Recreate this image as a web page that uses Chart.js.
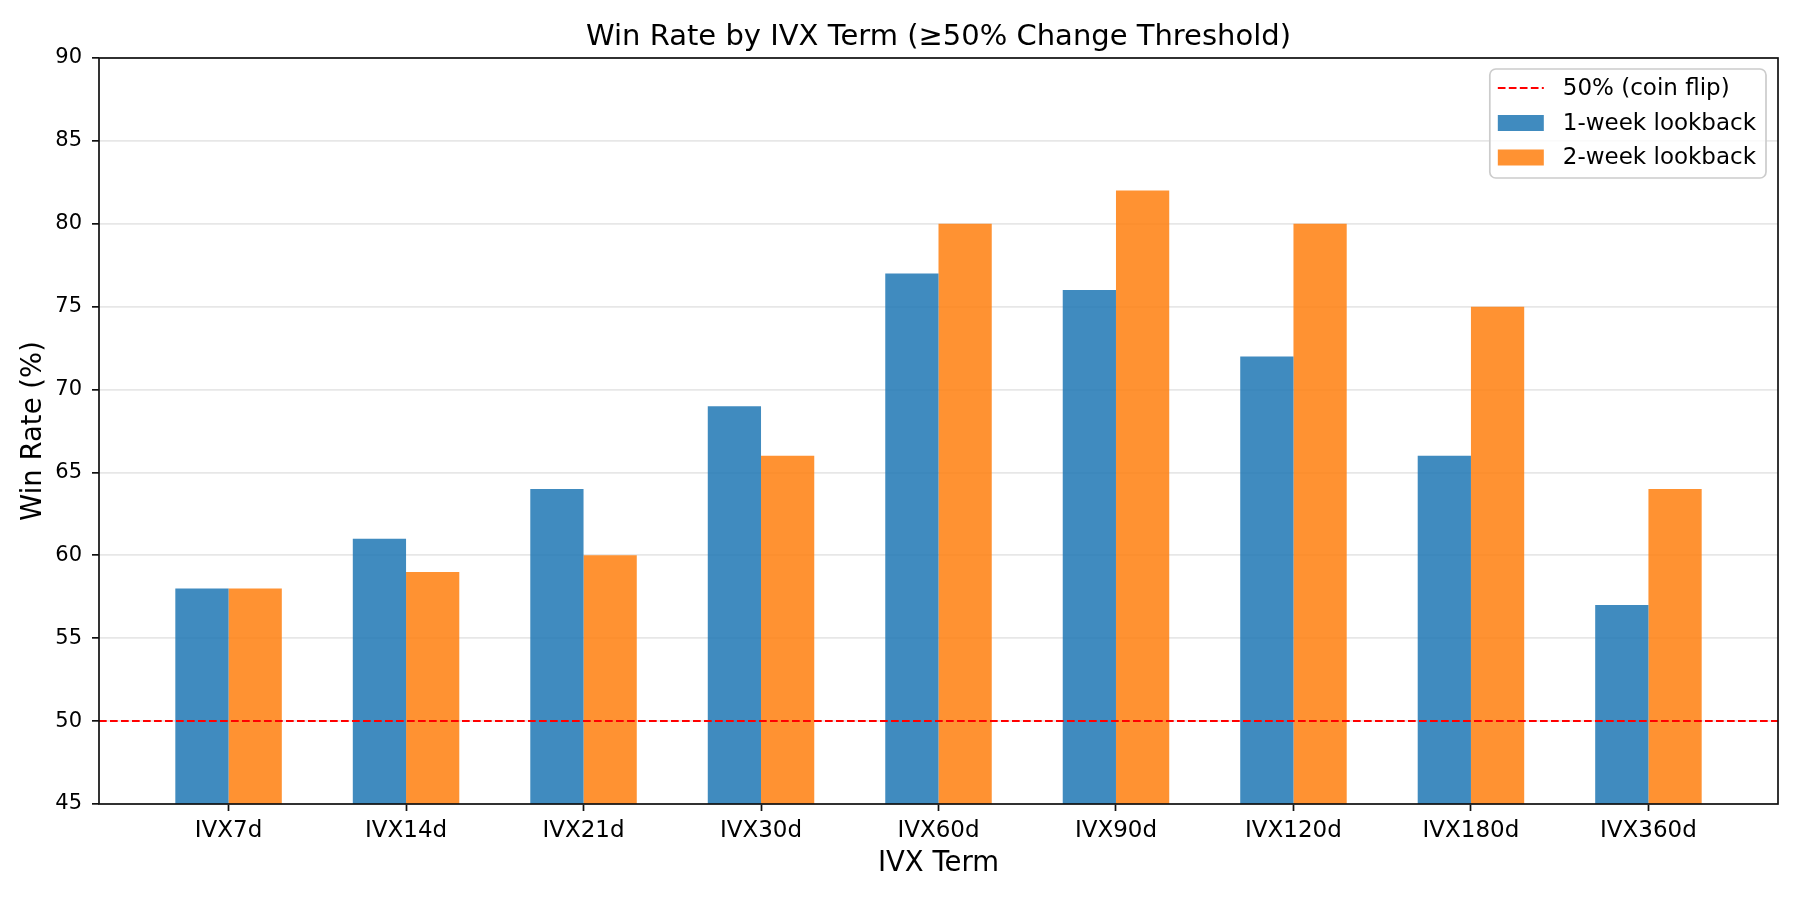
<!DOCTYPE html>
<html>
<head>
<meta charset="utf-8">
<script src="https://cdn.jsdelivr.net/npm/chart.js@4.4.1/dist/chart.umd.min.js"></script>
<style>
  html, body { margin: 0; padding: 0; background: #fff; }
  #wrap { width: 1800px; height: 900px; }
</style>
</head>
<body>
<div id="wrap"><canvas id="chart" width="1800" height="900"></canvas></div>
<script>
// chart data
const categories = ['IVX7d', 'IVX14d', 'IVX21d', 'IVX30d', 'IVX60d', 'IVX90d', 'IVX120d', 'IVX180d', 'IVX360d'];
const oneWeek = [58, 61, 64, 69, 77, 76, 72, 66, 57];
const twoWeek = [58, 59, 60, 66, 80, 82, 80, 75, 64];
const threshold = 50;
const yTicks = [45, 50, 55, 60, 65, 70, 75, 80, 85, 90];

// axis limits (matplotlib style margins)
const xMin = -0.73, xMax = 8.73;

const FONT = 'DejaVu Sans';

// frame + legend drawn over the plot, like matplotlib
const framePlugin = {
    id: 'frame',
    afterDraw(chart) {
        const ctx = chart.ctx;
        const a = chart.chartArea;
        ctx.save();
        ctx.strokeStyle = '#111';
        ctx.lineWidth = 1.7;
        ctx.strokeRect(a.left, a.top, a.right - a.left, a.bottom - a.top);

        // legend
        const items = [chart.data.datasets[2], chart.data.datasets[0], chart.data.datasets[1]];
        ctx.font = '23px "' + FONT + '"';
        let maxW = 0;
        items.forEach(d => { maxW = Math.max(maxW, ctx.measureText(d.label).width); });
        const w = 73 + maxW + 10;
        const h = 109;
        const x = a.right - 12 - w;
        const y = a.top + 11;
        ctx.beginPath();
        ctx.roundRect(x, y, w, h, 6);
        ctx.fillStyle = 'rgba(255,255,255,0.8)';
        ctx.fill();
        ctx.strokeStyle = '#cccccc';
        ctx.lineWidth = 1.7;
        ctx.stroke();

        const rows = [19, 54, 88.5];
        items.forEach((d, i) => {
            const cy = y + rows[i];
            if (d.type === 'line') {
                ctx.beginPath();
                ctx.setLineDash(d.borderDash);
                ctx.strokeStyle = d.borderColor;
                ctx.lineWidth = d.borderWidth;
                ctx.moveTo(x + 8, cy);
                ctx.lineTo(x + 54, cy);
                ctx.stroke();
                ctx.setLineDash([]);
            } else {
                ctx.fillStyle = d.backgroundColor;
                ctx.fillRect(x + 8, cy - 8, 46, 16);
            }
            ctx.fillStyle = '#000';
            ctx.textBaseline = 'middle';
            ctx.textAlign = 'left';
            ctx.fillText(d.label, x + 73, cy + 1);
        });
        ctx.restore();
    }
};

const ctx = document.getElementById('chart').getContext('2d');
new Chart(ctx, {
    type: 'bar',
    data: {
        datasets: [
            {
                label: '1-week lookback',
                data: oneWeek.map((v, i) => ({ x: i, y: v })),
                backgroundColor: 'rgba(31,119,180,0.85)',
                categoryPercentage: 0.6,
                barPercentage: 1.0,
                order: 1
            },
            {
                label: '2-week lookback',
                data: twoWeek.map((v, i) => ({ x: i, y: v })),
                backgroundColor: 'rgba(255,127,14,0.85)',
                categoryPercentage: 0.6,
                barPercentage: 1.0,
                order: 1
            },
            {
                type: 'line',
                label: '50% (coin flip)',
                data: [{ x: xMin, y: threshold }, { x: xMax, y: threshold }],
                borderColor: '#ff0000',
                borderWidth: 2,
                borderDash: [7.7, 3.3],
                pointRadius: 0,
                fill: false,
                order: 0
            }
        ]
    },
    options: {
        responsive: false,
        animation: false,
        layout: { padding: { left: 0, right: 22, top: 0, bottom: 0 } },
        plugins: {
            legend: { display: false },
            tooltip: { enabled: false },
            title: {
                display: true,
                fullSize: false,
                text: 'Win Rate by IVX Term (≥50% Change Threshold)',
                color: '#000',
                font: { family: FONT, size: 29, weight: 'normal' },
                padding: { top: 19.9, bottom: 3.3 }
            }
        },
        scales: {
            x: {
                type: 'linear',
                min: xMin,
                max: xMax,
                offset: false,
                grid: { display: true, drawOnChartArea: false, drawTicks: true, tickLength: 7, tickColor: '#111', tickWidth: 1.7, offset: false },
                border: { display: false },
                afterFit(scale) { scale.height = 96; },
                ticks: {
                    stepSize: 1,
                    includeBounds: false,
                    autoSkip: false,
                    maxRotation: 0,
                    padding: 6,
                    color: '#000',
                    font: { family: FONT, size: 23 },
                    callback: (v) => (Number.isInteger(v) && categories[v] !== undefined) ? categories[v] : ''
                },
                title: {
                    display: true,
                    text: 'IVX Term',
                    color: '#000',
                    font: { family: FONT, size: 27.5 },
                    padding: { top: 0, bottom: 20 }
                }
            },
            y: {
                min: yTicks[0],
                max: yTicks[yTicks.length - 1],
                afterFit(scale) { scale.width = 99; },
                afterBuildTicks(scale) { scale.ticks = yTicks.map(v => ({ value: v })); },
                grid: { color: '#e7e7e7', lineWidth: 1.7, tickLength: 7, tickColor: '#111', tickWidth: 1.7 },
                border: { display: false },
                ticks: {
                    padding: 10,
                    color: '#000',
                    font: { family: FONT, size: 21 }
                },
                title: {
                    display: true,
                    text: 'Win Rate (%)',
                    color: '#000',
                    font: { family: FONT, size: 27.5 },
                    padding: { top: 17, bottom: 0 }
                }
            }
        }
    },
    plugins: [framePlugin]
});
</script>
</body>
</html>
